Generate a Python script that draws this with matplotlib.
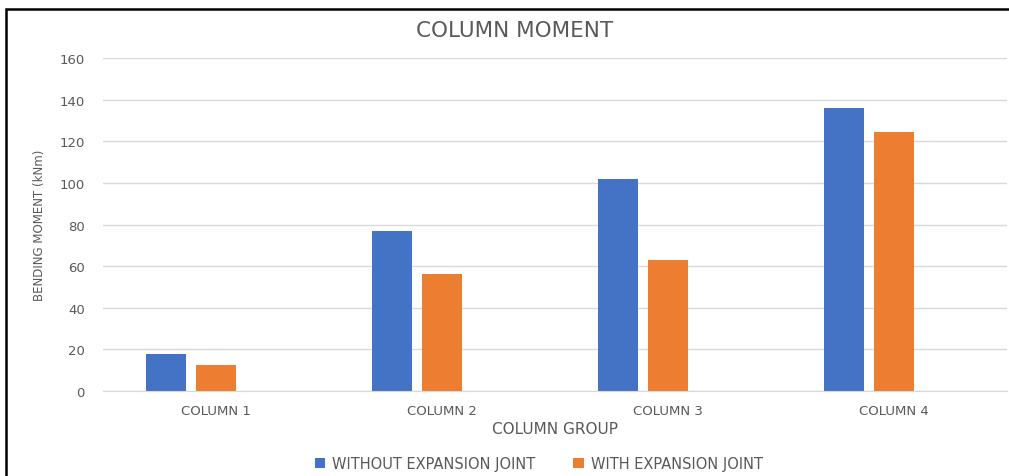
import matplotlib.pyplot as plt
import numpy as np
from matplotlib.patches import Rectangle

plt.rcParams['font.family'] = ['DejaVu Sans']

groups = ["COLUMN 1", "COLUMN 2", "COLUMN 3", "COLUMN 4"]
without_joint = [18, 77, 102, 136]
with_joint = [12.5, 56.5, 63, 124.5]
series_names = ["WITHOUT EXPANSION JOINT", "WITH EXPANSION JOINT"]

blue = "#4472c4"
orange = "#ed7d31"
grey = "#595959"

fig = plt.figure(figsize=(10.09, 4.77), dpi=100)
ax = fig.add_axes([0.102, 0.178, 0.896, 0.698])

x = np.arange(len(groups))
w = 0.177
# third (empty) slot on the right of each group is left blank
ax.bar(x - 0.221, without_joint, w, color=blue, label=series_names[0])
ax.bar(x, with_joint, w, color=orange, label=series_names[1])

ax.set_xlim(-0.5, 3.5)
ax.set_ylim(0, 160)
ax.set_yticks(np.arange(0, 161, 20))
ax.set_xticks(x)
ax.set_xticklabels(groups)
ax.yaxis.grid(True, color="#d9d9d9", linewidth=1)
ax.set_axisbelow(True)
for s in ["top", "right", "left"]:
    ax.spines[s].set_visible(False)
ax.spines["bottom"].set_color("#d9d9d9")
ax.tick_params(length=0, colors=grey, labelsize=9.5)
ax.tick_params(axis="y", pad=13)
ax.tick_params(axis="x", pad=9)

fig.text(0.51, 0.934, "COLUMN MOMENT", fontsize=15.5, color=grey,
         ha="center", va="center")
ax.set_xlabel("COLUMN GROUP", fontsize=11, color=grey, labelpad=3)
ax.set_ylabel("BENDING MOMENT (kNm)", fontsize=8.5, color=grey, labelpad=10)

fig.legend(loc="lower center", bbox_to_anchor=(0.534, -0.017), ncol=2,
           frameon=False, fontsize=10.5, labelcolor=grey, handlelength=0.7,
           handleheight=0.7, columnspacing=2.6, handletextpad=0.5)

# outer frame of the chart
fig.add_artist(Rectangle((0.006, -0.1), 1.1, 1.079, transform=fig.transFigure,
                         fill=False, edgecolor="black", linewidth=1.8))

fig.savefig("out.png", dpi=100)
